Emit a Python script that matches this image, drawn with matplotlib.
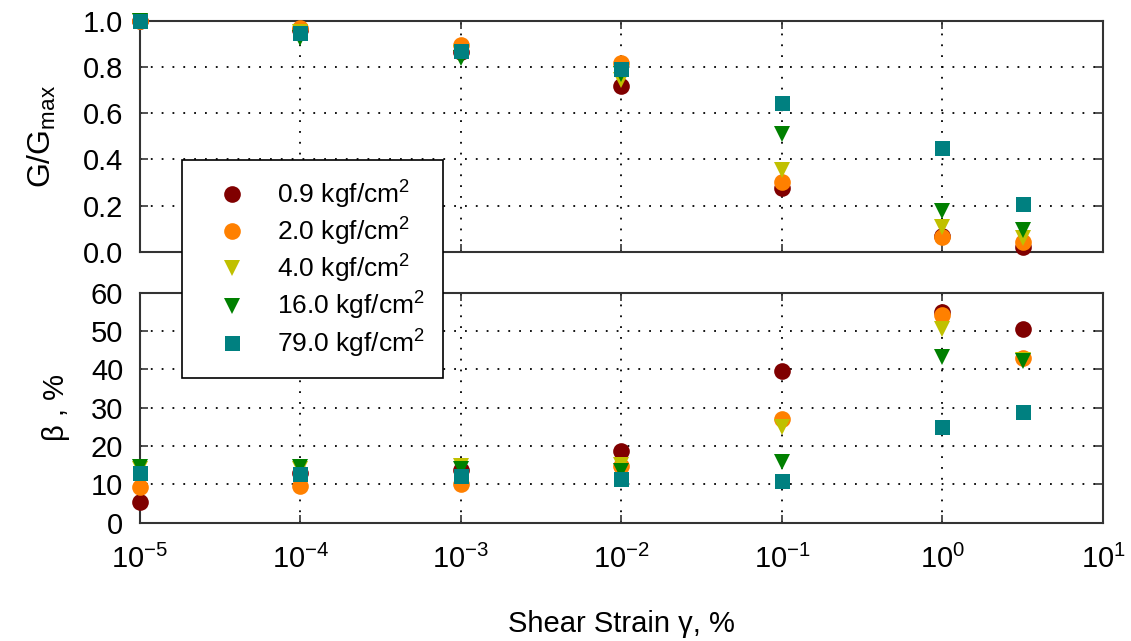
import matplotlib
matplotlib.use("Agg")
import matplotlib.pyplot as plt
from matplotlib import font_manager
import numpy as np

# ---- data ----
strain = [1e-5, 1e-4, 1e-3, 1e-2, 1e-1, 1.0, 3.16]
labels = ["0.9 kgf/cm$^2$", "2.0 kgf/cm$^2$", "4.0 kgf/cm$^2$",
          "16.0 kgf/cm$^2$", "79.0 kgf/cm$^2$"]
g_09 = [1.00, 0.96, 0.865, 0.717, 0.278, 0.068, 0.020]
g_20 = [1.00, 0.97, 0.895, 0.818, 0.303, 0.064, 0.042]
g_40 = [1.00, 0.95, 0.860, 0.745, 0.355, 0.108, 0.062]
g_160 = [1.00, 0.925, 0.840, 0.770, 0.510, 0.176, 0.095]
g_790 = [1.00, 0.947, 0.869, 0.792, 0.645, 0.450, 0.207]
b_09 = [5.5, 12.9, 13.7, 18.7, 39.7, 55.0, 50.6]
b_20 = [9.2, 9.6, 10.2, 14.8, 27.0, 54.2, 43.0]
b_40 = [14.0, 14.0, 14.8, 15.0, 25.0, 50.6, 42.5]
b_160 = [14.5, 14.5, 14.0, 13.5, 15.8, 43.2, 42.1]
b_790 = [13.0, 12.6, 12.2, 11.3, 10.9, 25.0, 29.0]

G = [g_09, g_20, g_40, g_160, g_790]
B = [b_09, b_20, b_40, b_160, b_790]
colors = ["#800000", "#ff8000", "#c0c000", "#008000", "#008080"]
markers = ["o", "o", "v", "v", "s"]
msizes = [12, 12, 12, 12, 10.8]

names = {f.name for f in font_manager.fontManager.ttflist}
base = "Liberation Sans" if "Liberation Sans" in names else "DejaVu Sans"

plt.rcParams["font.family"] = [base, "DejaVu Sans"]
plt.rcParams["mathtext.fontset"] = "custom"
plt.rcParams["mathtext.rm"] = base
plt.rcParams["mathtext.it"] = base + ":italic"
plt.rcParams["mathtext.bf"] = base + ":bold"
plt.rcParams["axes.unicode_minus"] = False

FS = 21

fig = plt.figure(figsize=(11.31, 6.41), dpi=100)
L, R = 140 / 1131, 1103 / 1131
ax1 = fig.add_axes([L, 1 - 252 / 641, R - L, (252 - 20.7) / 641])
ax2 = fig.add_axes([L, 1 - 522.7 / 641, R - L, (522.7 - 292.7) / 641])

spine_c = "#333333"
for ax, data in ((ax1, G), (ax2, B)):
    for d, c, m, ms in zip(data, colors, markers, msizes):
        ax.plot(strain, d, linestyle="none", marker=m, color=c,
                markersize=ms, markeredgewidth=0, clip_on=False, zorder=3)
    ax.set_xscale("log")
    ax.set_xlim(1e-5, 10)
    ax.set_xticks([1e-5, 1e-4, 1e-3, 1e-2, 1e-1, 1, 10])
    ax.xaxis.set_minor_locator(matplotlib.ticker.NullLocator())
    ax.grid(True, which="major", color="black", linestyle=(0, (1, 5)),
            linewidth=1.3, zorder=1)
    ax.set_axisbelow(True)
    ax.tick_params(direction="in", top=True, right=True, length=6,
                   width=1.2, color=spine_c, labelsize=FS)
    ax.tick_params(axis="y", pad=12)
    for s in ax.spines.values():
        s.set_color(spine_c)
        s.set_linewidth(1.5)

ax1.set_ylim(0, 1.0)
ax1.set_yticks(np.arange(0, 1.01, 0.2))
ax1.yaxis.set_major_formatter(matplotlib.ticker.FormatStrFormatter("%.1f"))
ax1.tick_params(labelbottom=False)
ax1.set_ylabel("G/G$_{\\mathrm{max}}$", fontsize=23)
ax1.yaxis.set_label_coords(-0.085, 0.5)

ax2.set_ylim(0, 60)
ax2.set_yticks(np.arange(0, 61, 10))
ax2.set_ylabel("β , %", fontsize=FS)
ax2.yaxis.set_label_coords(-0.073, 0.5)
ax2.tick_params(axis="x", pad=16)
ax2.set_xlabel("Shear Strain γ, %", fontsize=FS, labelpad=26)

handles = [matplotlib.lines.Line2D([], [], linestyle="none", marker=m, color=c,
                                   markersize=ms, markeredgewidth=0)
           for c, m, ms in zip(colors, markers, msizes)]
leg = fig.legend(handles, labels, loc="upper left",
                 bbox_to_anchor=(182 / 1131, 1 - 160 / 641),
                 borderaxespad=0, fontsize=19, frameon=True, fancybox=False,
                 framealpha=1, edgecolor="black", borderpad=0.7,
                 handlelength=2.39, handletextpad=0.51, labelspacing=0.19)
leg.get_frame().set_linewidth(1.2)

fig.savefig("out.png", dpi=100)
